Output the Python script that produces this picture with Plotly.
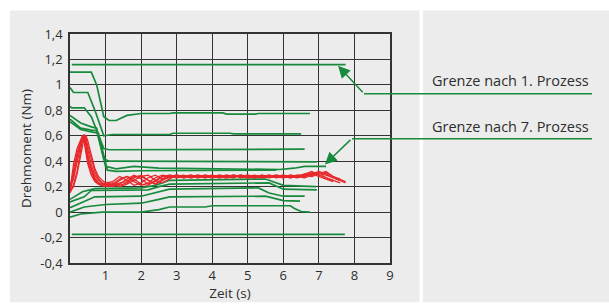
import plotly.graph_objects as go

# ---------------- data ----------------
x_ticks = [1, 2, 3, 4, 5, 6, 7, 8, 9]
y_tickvals = [-0.4, -0.2, 0, 0.2, 0.4, 0.6, 0.8, 1.0, 1.2, 1.4]
y_ticktext = ["-0,4", "-0,2", "0", "0,2", "0,4", "0,6", "0,8", "1", "1,2", "1,4"]

# green measurement curves (x in s, y in Nm)
g01_x = [0.05, 7.75]
g01_y = [1.16, 1.16]
g02_x = [0, 0.6, 0.75, 0.95, 1.1, 1.3, 1.6, 2.0, 2.8, 2.9, 4.3, 4.4, 5.2, 5.3, 6.75]
g02_y = [1.10, 1.10, 1.00, 0.75, 0.72, 0.72, 0.76, 0.775, 0.775, 0.78, 0.78, 0.77, 0.77, 0.775, 0.775]
g03_x = [0, 0.1, 0.5, 0.7, 0.95, 1.2, 2.8, 2.9, 4.5, 4.6, 6.5]
g03_y = [0.98, 0.94, 0.94, 0.80, 0.60, 0.61, 0.61, 0.62, 0.62, 0.615, 0.615]
g04_x = [0, 0.05, 0.4, 0.6, 0.95, 1.1, 6.6]
g04_y = [0.83, 0.82, 0.82, 0.75, 0.50, 0.49, 0.495]
g05_x = [0, 0.3, 0.6, 0.75, 0.95, 1.1, 6.94]
g05_y = [0.76, 0.70, 0.67, 0.66, 0.42, 0.40, 0.395]
g06_x = [0, 0.3, 0.6, 0.75, 1.0, 1.3, 1.8, 2.5, 5.9, 6.3, 6.6, 7.2]
g06_y = [0.73, 0.66, 0.645, 0.64, 0.36, 0.34, 0.36, 0.345, 0.335, 0.345, 0.36, 0.36]
g07_x = [0, 0.3, 0.6, 0.8, 1.05, 1.3, 2.0, 2.8, 5.8]
g07_y = [0.71, 0.65, 0.63, 0.62, 0.33, 0.32, 0.325, 0.325, 0.33]
g08_x = [0, 0.35, 0.7, 2.0, 2.4, 2.8, 5.5, 6.0, 6.92]
g08_y = [0.10, 0.16, 0.185, 0.19, 0.21, 0.25, 0.26, 0.21, 0.20]
g09_x = [0, 0.4, 0.6, 2.2, 2.5, 2.8, 5.6, 6.0, 6.94]
g09_y = [0.08, 0.12, 0.17, 0.175, 0.20, 0.22, 0.23, 0.18, 0.175]
g10_x = [0, 0.3, 0.7, 2.0, 2.4, 2.8, 5.3, 5.6, 6.0, 6.6]
g10_y = [0.035, 0.07, 0.12, 0.125, 0.15, 0.18, 0.19, 0.15, 0.125, 0.125]
g11_x = [0, 0.4, 1.0, 2.0, 2.5, 2.8, 5.5, 6.0, 6.47]
g11_y = [0.0, 0.04, 0.06, 0.07, 0.10, 0.12, 0.125, 0.09, 0.087]
g12_x = [0, 0.3, 0.9, 2.0, 2.5, 2.8, 3.8, 4.0, 6.2, 6.3, 6.5, 6.75]
g12_y = [-0.04, -0.015, 0.0, 0.0, 0.02, 0.04, 0.04, 0.05, 0.05, 0.03, 0.005, 0.0]
g13_x = [0.05, 7.73]
g13_y = [-0.175, -0.175]

green_x = [g01_x, g02_x, g03_x, g04_x, g05_x, g06_x, g07_x, g08_x, g09_x, g10_x, g11_x, g12_x, g13_x]
green_y = [g01_y, g02_y, g03_y, g04_y, g05_y, g06_y, g07_y, g08_y, g09_y, g10_y, g11_y, g12_y, g13_y]

# red measurement curves (shared time grid)
red_t = [0.0, 0.1, 0.2, 0.3, 0.35, 0.4, 0.45, 0.5, 0.6, 0.7, 0.8, 0.9, 1.0, 1.2, 1.4, 1.6,
         1.8, 2.0, 2.2, 2.4, 2.6, 2.8, 3.0, 3.2, 3.4, 3.6, 3.8, 4.0, 4.2, 4.4, 4.6, 4.8,
         5.0, 5.2, 5.4, 5.6, 5.8, 6.0, 6.2, 6.4, 6.6, 6.8, 7.0, 7.2, 7.4, 7.6, 7.75]
r1_y = [0.17, 0.38, 0.50, 0.57, 0.60, 0.58, 0.48, 0.40, 0.30, 0.25, 0.22, 0.21, 0.20,
        0.21, 0.25, 0.28, 0.24, 0.21, 0.23, 0.27, 0.29, 0.28,
        0.29, 0.27, 0.28, 0.29, 0.27, 0.28, 0.29, 0.28, 0.27, 0.29, 0.28, 0.27, 0.29, 0.28,
        0.28, 0.27, 0.29, 0.28, 0.30, 0.29, 0.31, 0.27, 0.25, 0.23]
r2_y = [0.15, 0.22, 0.32, 0.48, 0.57, 0.61, 0.58, 0.52, 0.42, 0.32, 0.26, 0.23, 0.21,
        0.20, 0.22, 0.26, 0.29, 0.26, 0.22, 0.24, 0.28, 0.29,
        0.28, 0.29, 0.27, 0.28, 0.29, 0.28, 0.27, 0.29, 0.28, 0.29, 0.27, 0.28, 0.29, 0.27,
        0.28, 0.29, 0.28, 0.27, 0.29, 0.31, 0.30, 0.32, 0.28, 0.26, 0.24]
r3_y = [0.19, 0.30, 0.44, 0.54, 0.58, 0.56, 0.50, 0.43, 0.34, 0.27, 0.23, 0.22, 0.22,
        0.23, 0.21, 0.23, 0.27, 0.29, 0.25, 0.22, 0.25, 0.28,
        0.27, 0.28, 0.29, 0.27, 0.28, 0.27, 0.29, 0.28, 0.29, 0.27, 0.28, 0.29, 0.27, 0.28,
        0.29, 0.28, 0.27, 0.29, 0.28, 0.30, 0.28, 0.26, 0.24]
r4_y = [0.16, 0.20, 0.30, 0.44, 0.53, 0.59, 0.60, 0.56, 0.45, 0.34, 0.28, 0.25, 0.23,
        0.24, 0.28, 0.25, 0.21, 0.23, 0.27, 0.29, 0.26, 0.27,
        0.28, 0.27, 0.28, 0.29, 0.28, 0.29, 0.28, 0.27, 0.28, 0.29, 0.28, 0.27, 0.28, 0.29,
        0.27, 0.28, 0.29, 0.28, 0.27, 0.29, 0.31, 0.29, 0.27, 0.25]
r5_y = [0.18, 0.34, 0.47, 0.55, 0.57, 0.55, 0.46, 0.38, 0.29, 0.24, 0.22, 0.21, 0.20,
        0.22, 0.26, 0.28, 0.26, 0.22, 0.21, 0.25, 0.28, 0.28,
        0.29, 0.28, 0.27, 0.28, 0.27, 0.29, 0.27, 0.28, 0.29, 0.28, 0.29, 0.28, 0.27, 0.28,
        0.28, 0.29, 0.27, 0.28, 0.30, 0.32, 0.29, 0.27, 0.25]
r6_y = [0.20, 0.26, 0.40, 0.52, 0.59, 0.61, 0.55, 0.47, 0.37, 0.29, 0.25, 0.23, 0.22,
        0.21, 0.23, 0.24, 0.28, 0.28, 0.25, 0.22, 0.26, 0.29,
        0.28, 0.28, 0.29, 0.28, 0.28, 0.27, 0.28, 0.29, 0.28, 0.28, 0.29, 0.27, 0.28, 0.28,
        0.29, 0.28, 0.28, 0.29, 0.29, 0.30, 0.32, 0.30, 0.27, 0.25, 0.23]
r7_y = [0.16, 0.28, 0.42, 0.53, 0.56, 0.58, 0.53, 0.45, 0.33, 0.26, 0.23, 0.22, 0.21,
        0.22, 0.20, 0.22, 0.25, 0.28, 0.29, 0.25, 0.23, 0.26,
        0.29, 0.28, 0.28, 0.27, 0.29, 0.28, 0.28, 0.27, 0.29, 0.28, 0.27, 0.28, 0.28, 0.29,
        0.28, 0.27, 0.28, 0.28, 0.29, 0.28, 0.30, 0.31, 0.28, 0.26]
red_y = [r1_y, r2_y, r3_y, r4_y, r5_y, r6_y, r7_y]

label_1 = "Grenze nach 1. Prozess"
label_7 = "Grenze nach 7. Prozess"
arrow1_tip = (7.54, 1.15)
arrow7_tip = (7.17, 0.375)

# ---------------- styling ----------------
GREEN = "#178a3c"
RED = "#e8282b"
PANEL = "#ebeceb"
GRID = "#333333"
FONT = "Open Sans"
TXT = "#2e2e2e"

W, H = 609, 308
L, R, T, B = 70, 219, 34, 40
PW, PH = W - L - R, H - T - B


def px(xp):
    return (xp - L) / PW


def py(yp):
    return (H - B - yp) / PH


fig = go.Figure()

for xs, ys in zip(green_x, green_y):
    fig.add_trace(go.Scatter(x=xs, y=ys, mode="lines",
                             line=dict(color=GREEN, width=1.7), hoverinfo="skip"))

for ys in red_y:
    fig.add_trace(go.Scatter(x=red_t[:len(ys)], y=ys, mode="lines",
                             line=dict(color=RED, width=1.3), hoverinfo="skip"))

shapes = [
    dict(type="rect", xref="paper", yref="paper", x0=px(10), x1=px(609), y0=py(308), y1=py(10),
         fillcolor=PANEL, line=dict(width=0), layer="below"),
    dict(type="rect", xref="paper", yref="paper", x0=px(419.5), x1=px(423), y0=py(308), y1=py(10),
         fillcolor="white", line=dict(width=0), layer="below"),
    dict(type="line", xref="paper", yref="paper", x0=px(364), x1=px(592), y0=py(95), y1=py(95),
         line=dict(color=GREEN, width=1.5)),
    dict(type="line", xref="paper", yref="paper", x0=px(352), x1=px(592), y0=py(141), y1=py(141),
         line=dict(color=GREEN, width=1.5)),
]

annotations = [
    dict(x=arrow1_tip[0], y=arrow1_tip[1], xref="x", yref="y", ax=26, ay=28, text="",
         showarrow=True, arrowhead=2, arrowsize=1.6, arrowwidth=1.5, arrowcolor=GREEN, standoff=0),
    dict(x=arrow7_tip[0], y=arrow7_tip[1], xref="x", yref="y", ax=27, ay=-26, text="",
         showarrow=True, arrowhead=2, arrowsize=1.6, arrowwidth=1.5, arrowcolor=GREEN, standoff=0),
    dict(x=px(591), y=py(82), xref="paper", yref="paper", text=label_1, showarrow=False,
         xanchor="right", yanchor="middle", font=dict(family=FONT, size=14.5, color=TXT)),
    dict(x=px(591), y=py(129), xref="paper", yref="paper", text=label_7, showarrow=False,
         xanchor="right", yanchor="middle", font=dict(family=FONT, size=14.5, color=TXT)),
]

fig.update_layout(
    width=W, height=H,
    margin=dict(l=L, r=R, t=T, b=B, pad=0),
    paper_bgcolor="white",
    plot_bgcolor=PANEL,
    showlegend=False,
    font=dict(family=FONT, size=13, color=TXT),
    shapes=shapes,
    annotations=annotations,
)

fig.update_xaxes(range=[0, 9], tickvals=x_ticks, ticktext=[str(v) for v in x_ticks],
                 showgrid=True, gridcolor=GRID, gridwidth=1.3,
                 showline=True, linecolor=GRID, linewidth=1.5, mirror=True,
                 zeroline=False, ticks="", tickfont=dict(size=13),
                 title=dict(text="Zeit (s)", standoff=2, font=dict(size=13.5)))
fig.update_yaxes(range=[-0.4, 1.4], tickvals=y_tickvals, ticktext=y_ticktext,
                 showgrid=True, gridcolor=GRID, gridwidth=1.3,
                 showline=True, linecolor=GRID, linewidth=1.5, mirror=True,
                 zeroline=False, ticks="", ticklabelstandoff=3, tickfont=dict(size=13),
                 title=dict(text="Drehmoment (Nm)", standoff=6, font=dict(size=13.5)))

fig.write_html(
    "out.html",
    config={"displayModeBar": False},
    post_script="document.body.style.margin='0';document.body.style.overflow='hidden';",
)
